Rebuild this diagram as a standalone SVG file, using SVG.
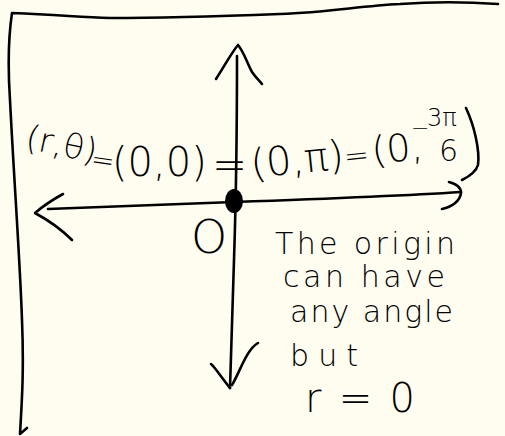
<svg xmlns="http://www.w3.org/2000/svg" width="505" height="436" viewBox="0 0 505 436">
<style>
.ink{fill:none;stroke:#000;stroke-width:2.6;stroke-linecap:round;stroke-linejoin:round}
.t{font-family:"DejaVu Sans","Liberation Sans",sans-serif;font-weight:200;fill:#000}
</style>
<rect width="505" height="436" fill="#fffdf0"/>
<g id="frame">
<path class="ink" d="M498,4 C470,2 440,1 400,4 C360,6 330,12 280,14 C200,17 140,18 110,18 C80,17 60,15 12,13 C8,40 8,70 10,100 C14,180 20,260 22,320 C24,370 22,400 20,434 L27,428"/>
</g>
<g id="connectors">
<path id="y-axis" class="ink" d="M237,56 C237,120 236,200 234,260 C232,320 231,360 230,388"/>
<path id="y-arrow-top" class="ink" d="M216,79 C225,65 232,52 238,45 C244,52 247,63 252,72 C256,78 260,81 262,84"/>
<path id="y-arrow-bottom" class="ink" d="M211,364 C214,366 222,378 230,388 M258,343 C246,350 240,372 232,385"/>
<path id="x-axis" class="ink" d="M48,209 C120,206 180,204 234,202 C320,199 400,196 461,192"/>
<path id="x-arrow-left" class="ink" d="M63,194 C52,200 42,207 35,213 C48,220 62,230 72,240"/>
<path id="x-arrow-right" class="ink" d="M449,182 C457,184 461,188 461,193 C460,201 452,207 442,209"/>
</g>
<g id="origin">
<ellipse cx="234" cy="201" rx="9" ry="12" fill="#000"/>
<text class="t" x="191" y="253" font-size="46">O</text>
</g>
<g id="equation">
<text class="t" x="24" y="148" font-size="34" transform="rotate(12,24,148)">(r,θ)</text>
<text class="t" x="90" y="168" font-size="28" transform="rotate(8,90,168)">=</text>
<text class="t" x="112" y="176" font-size="40">(0,0)</text>
<text class="t" x="212" y="179" font-size="42">=</text>
<text class="t" x="252" y="178" font-size="40" transform="rotate(-6,252,178)">(0,π)</text>
<text class="t" x="345" y="167" font-size="30" transform="rotate(-6,345,167)">=</text>
<text class="t" x="373" y="164" font-size="38" transform="rotate(-6,373,164)">(0,</text>
<text class="t" x="411" y="135" font-size="22">−</text>
<text class="t" x="427" y="126" font-size="24">3π</text>
<text class="t" x="439" y="161" font-size="30">6</text>
<path class="ink" d="M466,108 C474,125 480,150 478,165 C476,172 470,176 462,180"/>
</g>
<g id="note" class="t" font-size="30">
<text x="275" y="254" textLength="180" lengthAdjust="spacing">The origin</text>
<text x="283" y="287" textLength="162" lengthAdjust="spacing">can have</text>
<text x="290" y="322" textLength="163" lengthAdjust="spacing">any angle</text>
<text x="290" y="366" textLength="68" lengthAdjust="spacing">but</text>
<text x="305" y="412" font-size="40" textLength="110" lengthAdjust="spacing">r = 0</text>
</g>
</svg>
